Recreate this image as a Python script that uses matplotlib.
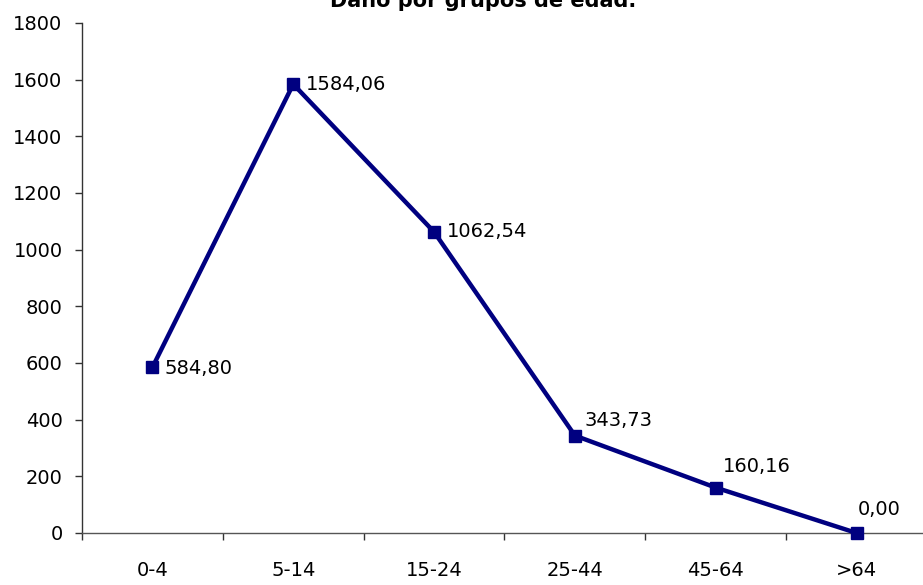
import matplotlib.pyplot as plt
import numpy as np

groups = ["0-4", "5-14", "15-24", "25-44", "45-64", ">64"]
values = [584.80, 1584.06, 1062.54, 343.73, 160.16, 0.00]
labels = ["584,80", "1584,06", "1062,54", "343,73", "160,16", "0,00"]
# label offsets in points (dx, dy)
offsets = [(9, -1), (9, 0), (9, 0), (7, 11), (5, 15), (1, 17)]

plt.rcParams["font.family"] = ["DejaVu Sans"]

fig = plt.figure(figsize=(9.23, 5.85), dpi=100)
ax = fig.add_axes([82 / 923, 52 / 585, 845 / 923, 510 / 585])

x = np.arange(len(groups))
ax.plot(x, values, color="#000080", linewidth=3.2, marker="s", markersize=9,
        clip_on=False, zorder=3)

for xi, v, lab, (dx, dy) in zip(x, values, labels, offsets):
    ax.annotate(lab, (xi, v), xytext=(dx, dy), textcoords="offset points",
                ha="left", va="center", fontsize=14)

ax.set_xlim(-0.5, len(groups) - 0.5)
ax.set_ylim(0, 1800)
ax.set_yticks(np.arange(0, 1801, 200))
ax.set_xticks(x)
ax.set_xticklabels(groups)
ax.set_xticks(np.arange(-0.5, len(groups), 1), minor=True)

for s in ["top", "right"]:
    ax.spines[s].set_visible(False)
ax.spines["left"].set_color("#333333")
ax.spines["bottom"].set_color("#555555")
ax.spines["left"].set_linewidth(1)
ax.spines["bottom"].set_linewidth(1)

ax.tick_params(axis="y", direction="out", length=5, width=1, color="#333333",
               labelsize=14, pad=9)
ax.tick_params(axis="x", which="major", length=0, labelsize=14, pad=20)
ax.tick_params(axis="x", which="minor", direction="out", length=5, width=1,
               color="#333333")

fig.text(483 / 923, 1 - 7 / 585, "Daño por grupos de edad.", ha="center",
         va="baseline", fontsize=15, fontweight="bold")

fig.savefig("out.png", dpi=100)
